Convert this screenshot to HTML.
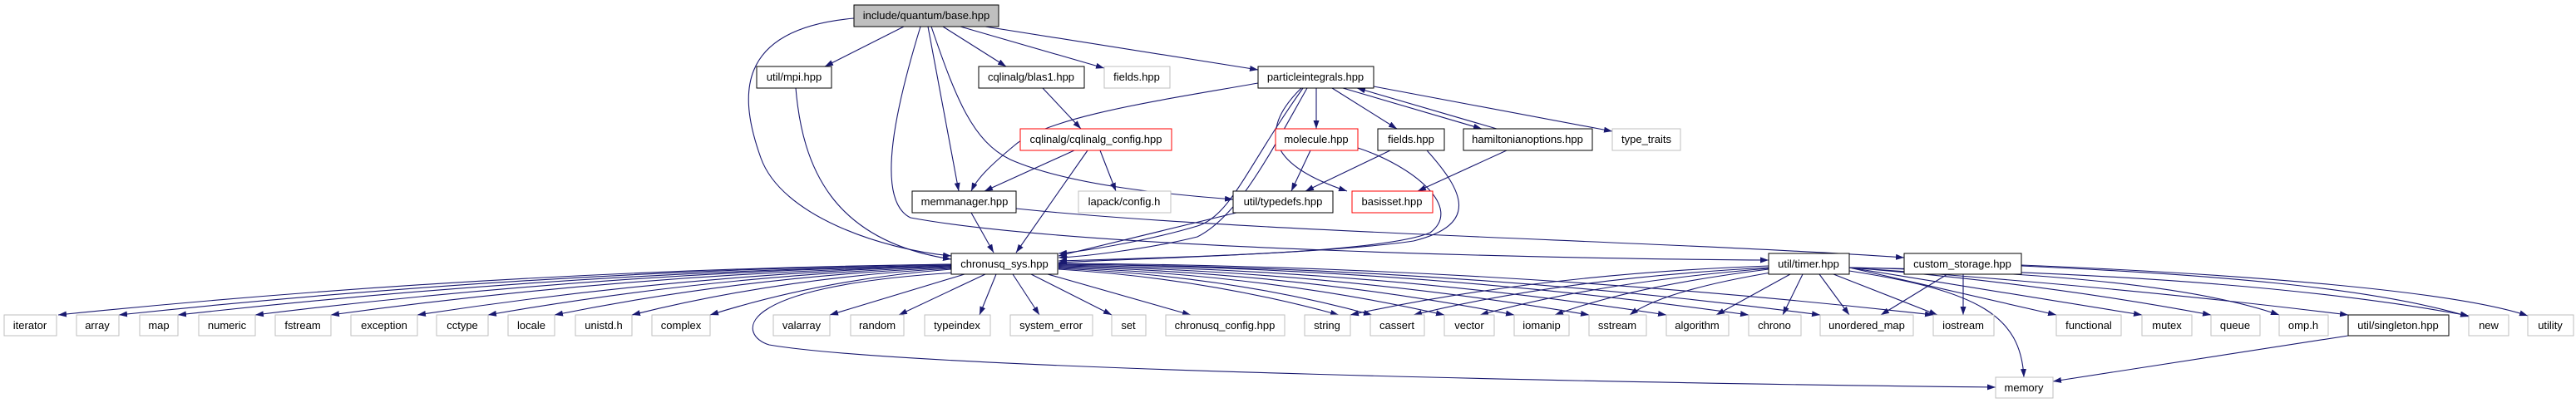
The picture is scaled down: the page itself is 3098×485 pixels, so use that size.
<!DOCTYPE html>
<html><head><meta charset="utf-8"><style>
html,body{margin:0;padding:0;background:#fff;}
svg{display:block;}
text{font-family:"Liberation Sans",sans-serif;font-size:13px;fill:#000;text-anchor:middle;}
.e{fill:none;stroke:#191970;stroke-width:1.1;marker-end:url(#a);}
.n{fill:#fff;stroke:#000;stroke-width:1;}
.g{fill:#fff;stroke:#bfbfbf;stroke-width:1;}
.r{fill:#fff;stroke:#ff0000;stroke-width:1;}
</style></head><body>
<svg width="3098" height="485" viewBox="0 0 3098 485" xmlns="http://www.w3.org/2000/svg">
<defs><marker id="a" markerWidth="10" markerHeight="7" refX="10" refY="3.5" orient="auto" markerUnits="userSpaceOnUse"><path d="M0,0 L10,3.5 L0,7 z" fill="#191970"/></marker></defs>
<g>
<path class="e" d="M1027,22 C880,35 890,120 915,190 C940,260 1060,300 1144,308"/>
<path class="e" d="M1087,32 L992,80"/>
<path class="e" d="M957,106 C965,200 1000,290 1144,312"/>
<path class="e" d="M1107,32 C1080,120 1050,240 1095,262 C1300,300 1900,312 2127,313"/>
<path class="e" d="M1116,32 L1153,230"/>
<path class="e" d="M1120,32 C1150,120 1170,170 1215,192 C1290,225 1420,235 1483,240"/>
<path class="e" d="M1134,32 L1210,80"/>
<path class="e" d="M1155,32 L1328,82"/>
<path class="e" d="M1185,32 L1513,84"/>
<path class="e" d="M1254,106 L1300,155"/>
<path class="e" d="M1292,181 L1184,230"/>
<path class="e" d="M1308,181 L1222,304"/>
<path class="e" d="M1323,181 L1342,230"/>
<path class="e" d="M1513,100 C1400,120 1260,140 1220,175 C1190,200 1175,215 1168,230"/>
<path class="e" d="M1567,106 C1500,200 1480,260 1440,272 C1380,290 1300,303 1273,305"/>
<path class="e" d="M1572,106 C1530,180 1490,260 1440,285 C1380,300 1300,309 1273,310"/>
<path class="e" d="M1583,106 L1583,155"/>
<path class="e" d="M1602,106 L1680,155"/>
<path class="e" d="M1615,106 L1782,155"/>
<path class="e" d="M1800,155 L1632,106"/>
<path class="e" d="M1652,104 L1939,158"/>
<path class="e" d="M1565,106 C1510,160 1530,200 1620,230"/>
<path class="e" d="M1576,181 L1553,230"/>
<path class="e" d="M1633,178 C1700,200 1760,250 1720,280 C1660,305 1400,310 1273,314"/>
<path class="e" d="M1672,181 L1570,230"/>
<path class="e" d="M1716,181 C1760,230 1780,270 1700,290 C1600,305 1350,312 1273,316"/>
<path class="e" d="M1812,181 L1705,230"/>
<path class="e" d="M1168,256 L1195,304"/>
<path class="e" d="M1222,251 C1500,280 2000,290 2290,310"/>
<path class="e" d="M1487,256 L1273,308"/>
<path class="e" d="M1144,318 Q600,325 70,379"/>
<path class="e" d="M1144,318 Q640,326 143,379"/>
<path class="e" d="M1144,319 Q680,327 214,379"/>
<path class="e" d="M1144,319 Q720,328 307,379"/>
<path class="e" d="M1144,320 Q760,329 398,379"/>
<path class="e" d="M1144,320 Q820,330 502,379"/>
<path class="e" d="M1144,321 Q860,331 587,379"/>
<path class="e" d="M1144,322 Q900,332 667,379"/>
<path class="e" d="M1144,323 Q940,334 760,379"/>
<path class="e" d="M1144,324 Q990,336 854,379"/>
<path class="e" d="M1160,330 L998,379"/>
<path class="e" d="M1185,330 L1081,379"/>
<path class="e" d="M1198,330 L1178,379"/>
<path class="e" d="M1218,330 L1250,379"/>
<path class="e" d="M1240,330 L1337,379"/>
<path class="e" d="M1260,330 L1432,379"/>
<path class="e" d="M1273,324 Q1450,335 1610,379"/>
<path class="e" d="M1273,323 Q1480,332 1650,379"/>
<path class="e" d="M1273,322 Q1520,330 1737,379"/>
<path class="e" d="M1273,321 Q1560,328 1821,379"/>
<path class="e" d="M1273,320 Q1600,326 1911,379"/>
<path class="e" d="M1273,319 Q1650,324 2004,379"/>
<path class="e" d="M1273,318 Q1700,322 2103,379"/>
<path class="e" d="M1273,318 Q1750,321 2189,379"/>
<path class="e" d="M1273,317 Q1800,320 2325,379"/>
<path class="e" d="M1150,328 C870,345 890,405 925,415 C1100,445 2000,462 2400,466"/>
<path class="e" d="M2127,320 Q1850,330 1624,379"/>
<path class="e" d="M2127,322 Q1880,335 1700,379"/>
<path class="e" d="M2127,323 Q1920,340 1780,379"/>
<path class="e" d="M2127,324 Q1960,345 1870,379"/>
<path class="e" d="M2130,328 Q2000,350 1960,379"/>
<path class="e" d="M2153,330 L2064,379"/>
<path class="e" d="M2168,330 L2144,379"/>
<path class="e" d="M2188,330 L2224,379"/>
<path class="e" d="M2205,330 L2330,379"/>
<path class="e" d="M2224,326 C2380,350 2430,380 2434,454"/>
<path class="e" d="M2224,322 L2473,379"/>
<path class="e" d="M2224,322 L2576,379"/>
<path class="e" d="M2224,322 Q2450,340 2659,379"/>
<path class="e" d="M2224,322 Q2600,330 2741,379"/>
<path class="e" d="M2224,322 Q2550,345 2824,379"/>
<path class="e" d="M2224,322 Q2700,330 2969,380"/>
<path class="e" d="M2342,330 L2262,379"/>
<path class="e" d="M2361,330 L2361,379"/>
<path class="e" d="M2431,320 C2650,330 2850,345 2969,381"/>
<path class="e" d="M2431,319 C2700,330 2950,350 3040,380"/>
<path class="e" d="M2824,404 L2469,459"/>
</g>
<g>
<rect x="1027" y="6" width="174" height="26" fill="#bfbfbf" stroke="#000"/><text x="1114" y="23">include/quantum/base.hpp</text>
<rect class="n" x="910" y="80" width="90" height="26"/><text x="955" y="97">util/mpi.hpp</text>
<rect class="n" x="1177" y="80" width="127" height="26"/><text x="1240" y="97">cqlinalg/blas1.hpp</text>
<rect class="g" x="1328" y="80" width="79" height="26"/><text x="1367" y="97">fields.hpp</text>
<rect class="n" x="1513" y="80" width="139" height="26"/><text x="1582" y="97">particleintegrals.hpp</text>
<rect class="r" x="1227" y="155" width="182" height="26"/><text x="1318" y="172">cqlinalg/cqlinalg_config.hpp</text>
<rect class="r" x="1534" y="155" width="99" height="26"/><text x="1583" y="172">molecule.hpp</text>
<rect class="n" x="1657" y="155" width="80" height="26"/><text x="1697" y="172">fields.hpp</text>
<rect class="n" x="1760" y="155" width="155" height="26"/><text x="1837" y="172">hamiltonianoptions.hpp</text>
<rect class="g" x="1939" y="155" width="82" height="26"/><text x="1980" y="172">type_traits</text>
<rect class="n" x="1097" y="230" width="125" height="26"/><text x="1160" y="247">memmanager.hpp</text>
<rect class="g" x="1297" y="230" width="111" height="26"/><text x="1352" y="247">lapack/config.h</text>
<rect class="n" x="1483" y="230" width="120" height="26"/><text x="1543" y="247">util/typedefs.hpp</text>
<rect class="r" x="1626" y="230" width="97" height="26"/><text x="1674" y="247">basisset.hpp</text>
<rect class="n" x="1144" y="305" width="128" height="25"/><text x="1208" y="322">chronusq_sys.hpp</text>
<rect class="n" x="2127" y="305" width="97" height="25"/><text x="2175" y="322">util/timer.hpp</text>
<rect class="n" x="2290" y="305" width="141" height="25"/><text x="2360" y="322">custom_storage.hpp</text>
<rect class="g" x="5" y="379" width="63" height="25"/><text x="36" y="396">iterator</text>
<rect class="g" x="92" y="379" width="51" height="25"/><text x="117" y="396">array</text>
<rect class="g" x="168" y="379" width="46" height="25"/><text x="191" y="396">map</text>
<rect class="g" x="239" y="379" width="68" height="25"/><text x="273" y="396">numeric</text>
<rect class="g" x="331" y="379" width="67" height="25"/><text x="364" y="396">fstream</text>
<rect class="g" x="422" y="379" width="80" height="25"/><text x="462" y="396">exception</text>
<rect class="g" x="525" y="379" width="62" height="25"/><text x="556" y="396">cctype</text>
<rect class="g" x="611" y="379" width="56" height="25"/><text x="639" y="396">locale</text>
<rect class="g" x="692" y="379" width="68" height="25"/><text x="726" y="396">unistd.h</text>
<rect class="g" x="784" y="379" width="70" height="25"/><text x="819" y="396">complex</text>
<rect class="g" x="930" y="379" width="68" height="25"/><text x="964" y="396">valarray</text>
<rect class="g" x="1023" y="379" width="64" height="25"/><text x="1055" y="396">random</text>
<rect class="g" x="1112" y="379" width="79" height="25"/><text x="1151" y="396">typeindex</text>
<rect class="g" x="1215" y="379" width="99" height="25"/><text x="1264" y="396">system_error</text>
<rect class="g" x="1337" y="379" width="41" height="25"/><text x="1357" y="396">set</text>
<rect class="g" x="1402" y="379" width="143" height="25"/><text x="1473" y="396">chronusq_config.hpp</text>
<rect class="g" x="1569" y="379" width="55" height="25"/><text x="1596" y="396">string</text>
<rect class="g" x="1648" y="379" width="65" height="25"/><text x="1680" y="396">cassert</text>
<rect class="g" x="1737" y="379" width="60" height="25"/><text x="1767" y="396">vector</text>
<rect class="g" x="1821" y="379" width="66" height="25"/><text x="1854" y="396">iomanip</text>
<rect class="g" x="1911" y="379" width="69" height="25"/><text x="1945" y="396">sstream</text>
<rect class="g" x="2004" y="379" width="75" height="25"/><text x="2041" y="396">algorithm</text>
<rect class="g" x="2103" y="379" width="63" height="25"/><text x="2134" y="396">chrono</text>
<rect class="g" x="2189" y="379" width="112" height="25"/><text x="2245" y="396">unordered_map</text>
<rect class="g" x="2325" y="379" width="73" height="25"/><text x="2361" y="396">iostream</text>
<rect class="g" x="2473" y="379" width="78" height="25"/><text x="2512" y="396">functional</text>
<rect class="g" x="2576" y="379" width="60" height="25"/><text x="2606" y="396">mutex</text>
<rect class="g" x="2659" y="379" width="59" height="25"/><text x="2688" y="396">queue</text>
<rect class="g" x="2741" y="379" width="59" height="25"/><text x="2770" y="396">omp.h</text>
<rect class="n" x="2824" y="379" width="121" height="25"/><text x="2884" y="396">util/singleton.hpp</text>
<rect class="g" x="2969" y="379" width="48" height="25"/><text x="2993" y="396">new</text>
<rect class="g" x="3040" y="379" width="55" height="25"/><text x="3067" y="396">utility</text>
<rect class="g" x="2400" y="454" width="69" height="25"/><text x="2434" y="471">memory</text>
</g>
</svg>
</body></html>
